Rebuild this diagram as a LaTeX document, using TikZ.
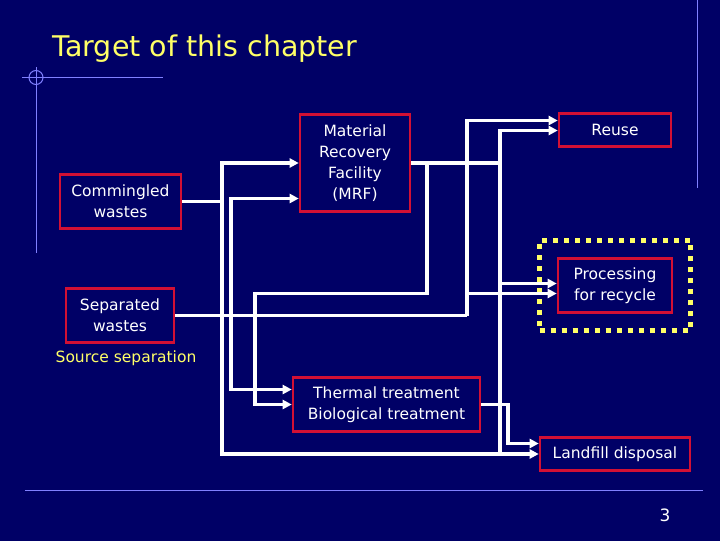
\documentclass[tikz,border=0pt]{standalone}
\usepackage{fontspec}
\setmainfont{DejaVu Sans}
\usepackage{tikz}
\usetikzlibrary{arrows.meta, positioning, fit}

\definecolor{slidebg}{RGB}{0,0,102}
\definecolor{boxred}{RGB}{210,16,52}
\definecolor{titleyel}{RGB}{255,255,102}
\definecolor{decoblue}{RGB}{128,128,255}

\begin{document}
\begin{tikzpicture}[
		x=1pt, y=-1pt,
		box/.style={draw=boxred, line width=2.6pt, text=white, align=center, inner sep=0pt, font=\fontsize{15.5}{21}\selectfont},
		flow/.style={draw=white, line width=3.6pt},
		feed/.style={flow, -{Triangle[length=9pt,width=9pt]}},
		deco/.style={draw=decoblue, line width=1pt}
	]
	\fill[slidebg] (0,0) rectangle (720,540);

	% slide frame
	\draw[deco] (22,77) -- (163,77);
	\draw[deco] (36,67) -- (36,252);
	\draw[deco] (36,77) circle[radius=7pt];
	\draw[deco] (697,0) -- (697,187);
	\draw[deco] (25,490) -- (703,490);

	\node[anchor=base west, text=titleyel, font=\fontsize{28.5}{32}\selectfont] (title) at (49,56) {Target of this chapter};
	\node[text=white, font=\fontsize{17}{20}\selectfont] (pageno) at (665,515) {3};

	\node[box, minimum width=121pt, minimum height=54pt] (comm) at (120.5,201) {Commingled\\wastes};
	\node[box, minimum width=108pt, minimum height=54pt] (sep) at (120,315) {Separated\\wastes};
	\node[text=titleyel, font=\fontsize{15.5}{20}\selectfont] (srcsep) at (126,358) {Source separation};
	\node[box, minimum width=110pt, minimum height=97pt] (mrf) at (355,162.5) {Material\\Recovery\\Facility\\(MRF)};
	\node[box, minimum width=112pt, minimum height=33pt] (reuse) at (615,129.5) {Reuse};
	\node[box, minimum width=114pt, minimum height=54pt] (proc) at (615,285) {Processing\\for recycle};
	\node[box, minimum width=187pt, minimum height=54pt] (therm) at (386.5,404) {Thermal treatment\\Biological treatment};
	\node[box, minimum width=150pt, minimum height=33pt] (land) at (615,453.5) {Landfill disposal};
	\node[draw=titleyel, line width=5pt, dash pattern=on 5pt off 6pt, fit=(proc), inner sep=17pt] (focus) {};

	\coordinate (cbus) at (222,201);
	\coordinate (sbus) at (231,315);
	\coordinate (rbus) at (467,315);
	\coordinate (mbus) at (500,162.5);
	\coordinate (tbus) at (427,162.5);
	\coordinate (tdrop) at (255,293);
	\coordinate (lbus) at (508,404);

	% commingled
	\draw[flow] (comm.east) -- (cbus);
	\draw[feed] (cbus) |- (mrf.west);
	\draw[feed] (cbus) |- (land.west);
	% separated
	\draw[flow] (sep.east) -- (rbus);
	\draw[feed] (sbus) |- ([yshift=-35.5pt]mrf.west);
	\draw[feed] (sbus) |- ([yshift=15pt]therm.west);
	\draw[feed] (rbus) |- ([yshift=9.5pt]reuse.west);
	\draw[feed] (rbus) |- ([yshift=-8pt]proc.west);
	% MRF
	\draw[flow] (mrf.east) -- (mbus);
	\draw[feed] (mbus) |- ([yshift=-0.5pt]reuse.west);
	\draw[feed] (mbus) |- ([yshift=2pt]proc.west);
	\draw[flow] (mbus) -- (mbus |- land.west);
	\draw[feed] (tbus) |- (tdrop) |- (therm.west);
	% treatment
	\draw[feed] (therm.east) -- (lbus) |- ([yshift=10.5pt]land.west);
\end{tikzpicture}
\end{document}
